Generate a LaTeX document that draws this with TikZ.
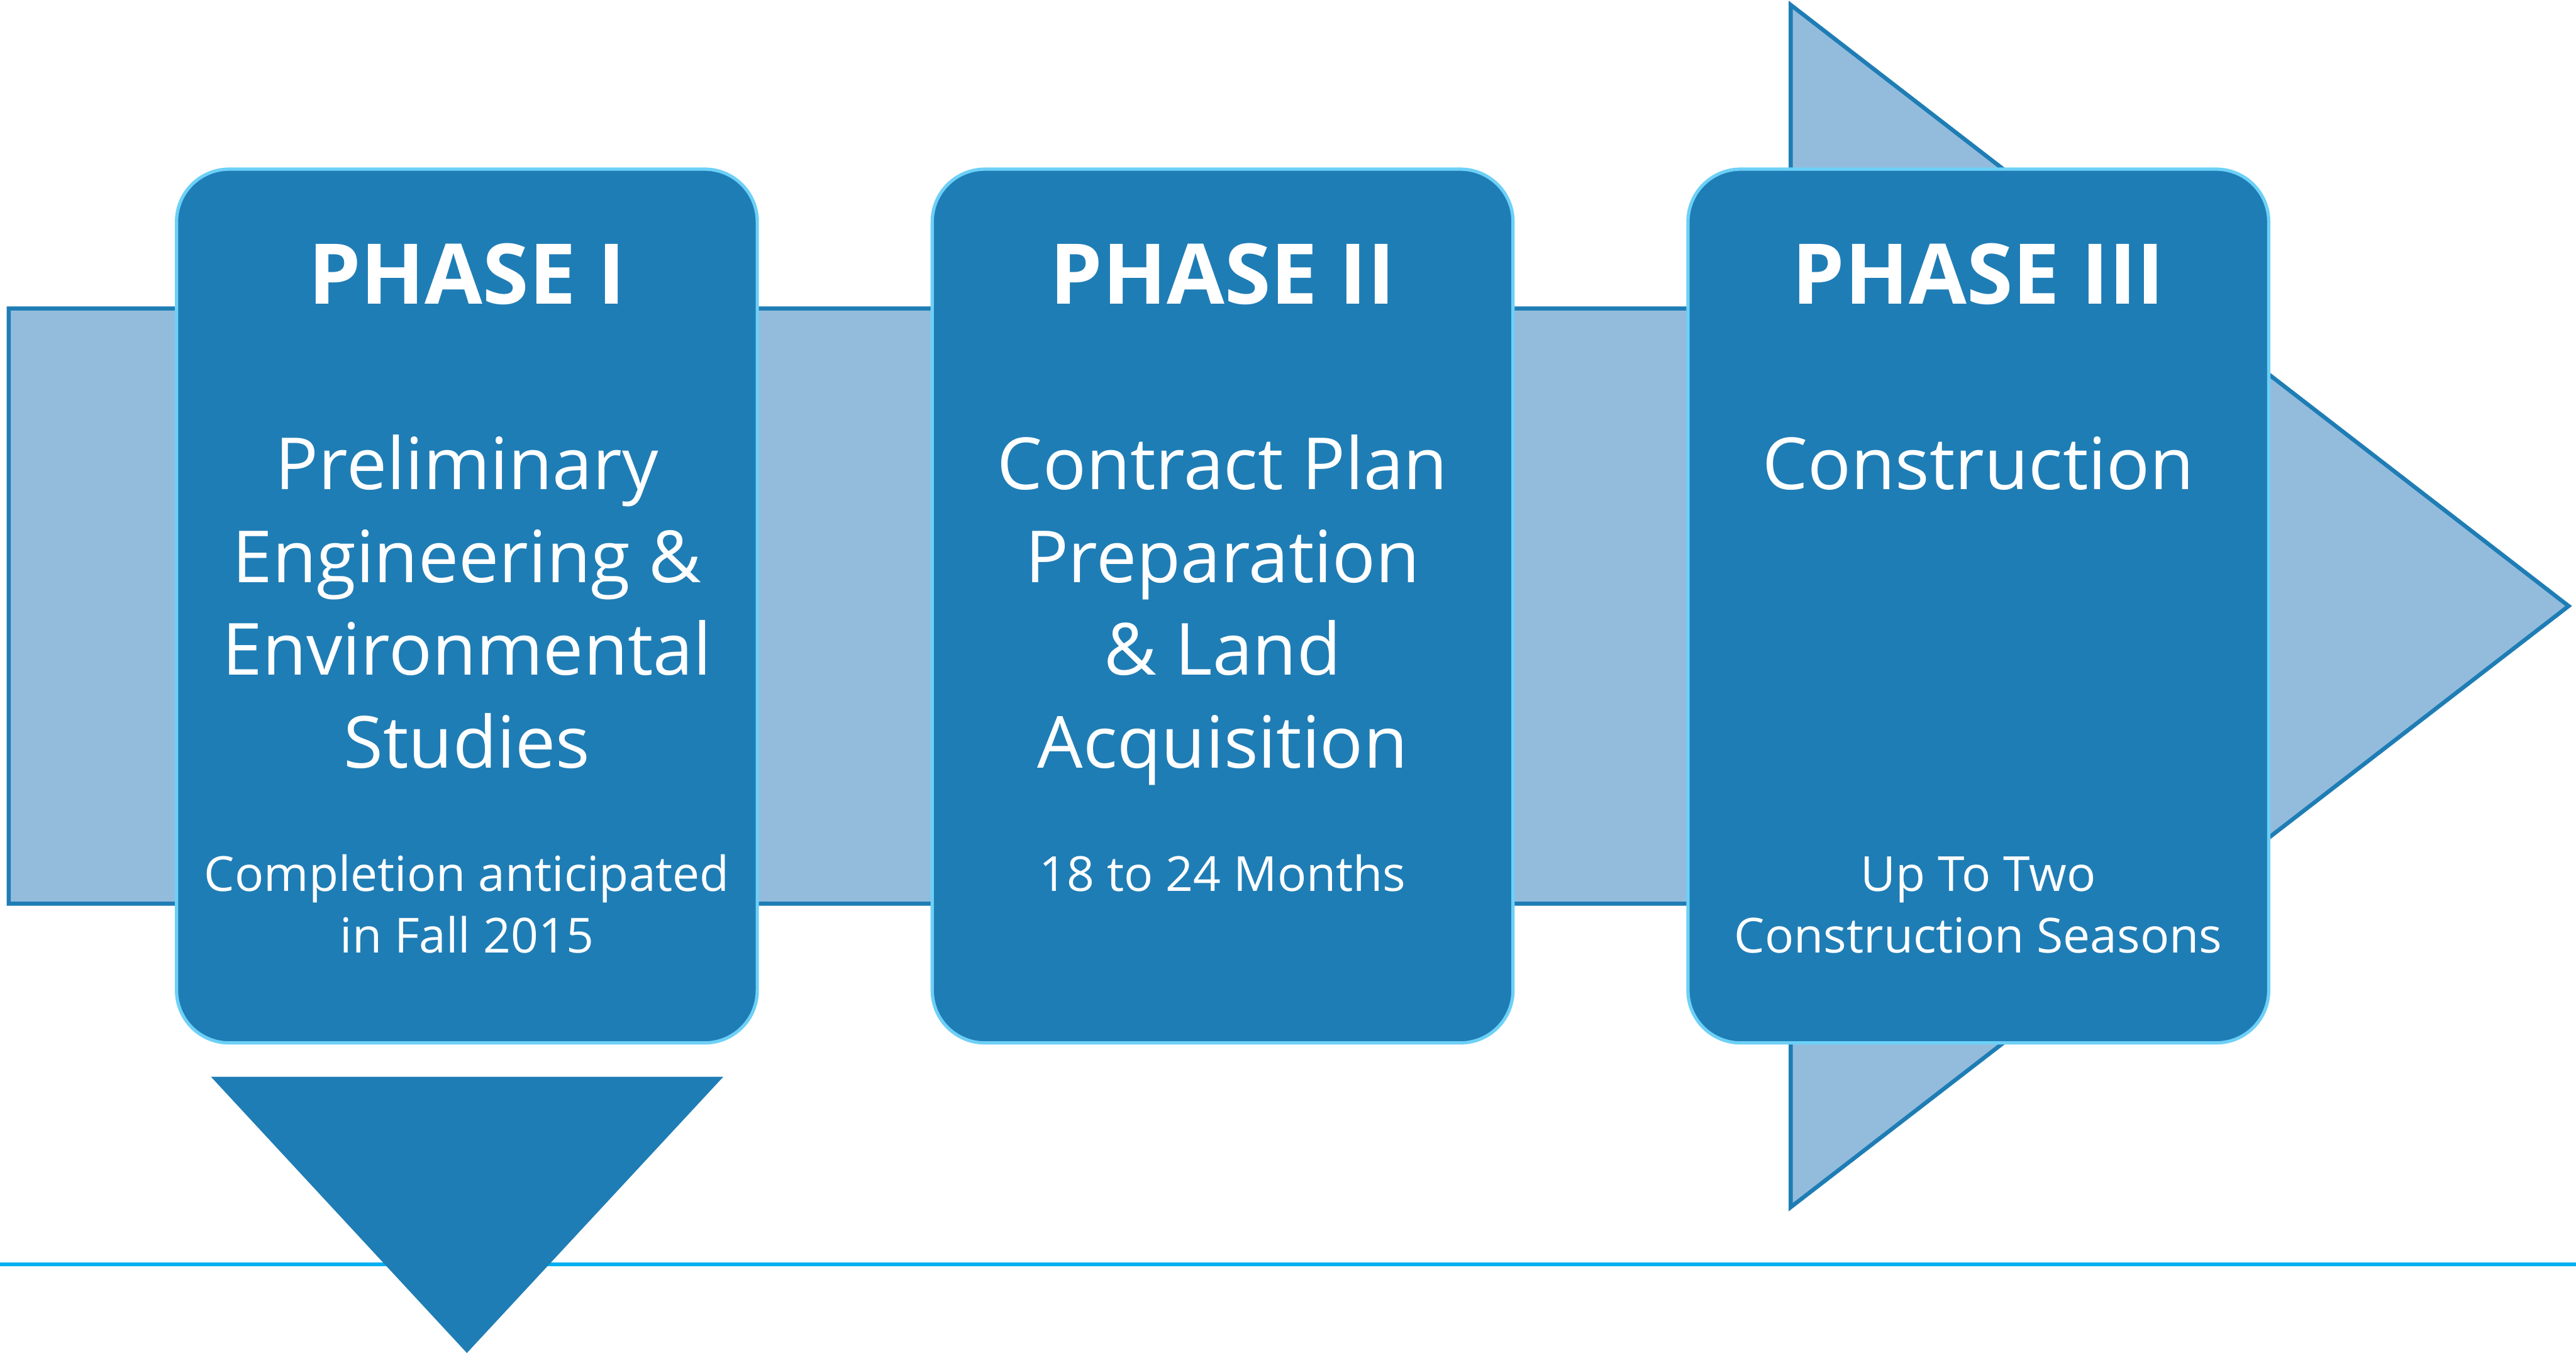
\documentclass[tikz,border=0pt]{standalone}
\usepackage{fontspec}
\setmainfont{Open Sans}
\begin{document}
\definecolor{deepblue}{HTML}{1F7DB5}
\definecolor{paleblue}{HTML}{93BCDC}
\definecolor{rimblue}{HTML}{6DD0F7}
\definecolor{ruleblue}{HTML}{00B0F0}
\begin{tikzpicture}[x=1pt,y=-1pt,
  phasebox/.style={draw=rimblue, line width=2pt, fill=deepblue, rounded corners=32pt,
                   minimum width=353.5pt, minimum height=532pt, inner sep=0pt},
  titletext/.style={text=white, inner sep=0pt, anchor=base, font=\fontsize{51}{60}\selectfont\bfseries},
  bigtext/.style={text=white, inner sep=0pt, anchor=base, font=\fontsize{43.8}{52}\selectfont},
  smalltext/.style={text=white, inner sep=0pt, anchor=base, font=\fontsize{29.4}{36}\selectfont}]
\useasboundingbox (0,0) rectangle (1568,823.7);

% timeline rule along the bottom
\coordinate (ruleL) at (0,769.8);
\coordinate (ruleR) at (1568,769.8);
\draw[ruleblue, line width=2.6pt] (ruleL) -- (ruleR);

% large pale arrow running behind the phases
\coordinate (bandTL) at (5.3,187.8);
\coordinate (bandBL) at (5.3,550.2);
\coordinate (neckT) at (1090,187.8);
\coordinate (neckB) at (1090,550.2);
\coordinate (headT) at (1090,3);
\coordinate (headB) at (1090,735);
\coordinate (tip) at (1563.5,369);
\draw[deepblue, fill=paleblue, line width=2.5pt, line join=miter]
  (bandTL) -- (neckT) -- (headT) -- (tip) -- (headB) -- (neckB) -- (bandBL) -- cycle;

% phase cards
\node[phasebox] (box1) at (284.2,369) {};
\node[phasebox] (box2) at (744.2,369) {};
\node[phasebox] (box3) at (1204.2,369) {};

% marker below the first phase
\coordinate (triL) at (128.4,655.6);
\coordinate (triR) at (440.3,655.6);
\coordinate (triTip) at (284.2,823.8);
\fill[deepblue] (triL) -- (triR) -- (triTip) -- cycle;

% phase I
\node[titletext] (t1) at (284.2,185) {PHASE I};
\node[bigtext] (a1) at (284.2,298) {Preliminary};
\node[bigtext] (a2) at (284.2,354.5) {Engineering \&};
\node[bigtext] (a3) at (284.2,411) {Environmental};
\node[bigtext] (a4) at (284.2,467.5) {Studies};
\node[smalltext] (s1) at (284.2,542.5) {Completion anticipated};
\node[smalltext] (s2) at (284.2,580) {in Fall 2015};

% phase II
\node[titletext] (t2) at (744.2,185) {PHASE II};
\node[bigtext] (b1) at (744.2,298) {Contract Plan};
\node[bigtext] (b2) at (744.2,354.5) {Preparation};
\node[bigtext] (b3) at (744.2,411) {\& Land};
\node[bigtext] (b4) at (744.2,467.5) {Acquisition};
\node[smalltext] (m1) at (744.2,542.5) {18 to 24 Months};

% phase III
\node[titletext] (t3) at (1204.2,185) {PHASE III};
\node[bigtext] (c1) at (1204.2,298) {Construction};
\node[smalltext] (u1) at (1204.2,542.5) {Up To Two};
\node[smalltext] (u2) at (1204.2,580) {Construction Seasons};
\end{tikzpicture}
\end{document}
